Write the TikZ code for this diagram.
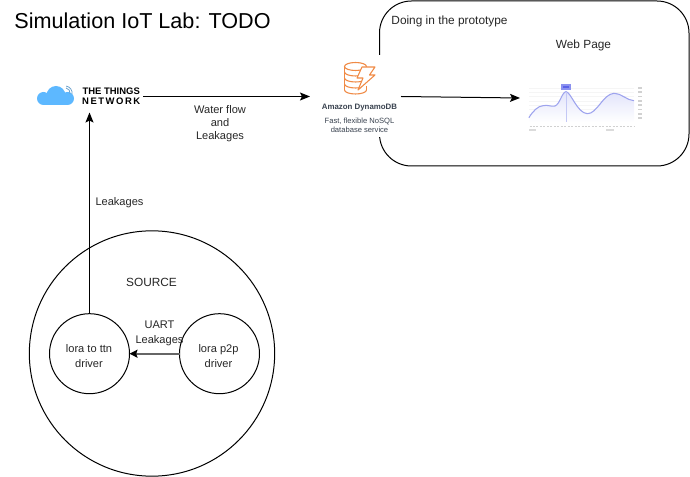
\documentclass[tikz,border=0pt]{standalone}
\usepackage{fontspec}
\setmainfont{Liberation Sans}
\usetikzlibrary{arrows.meta}
\definecolor{ttnblue}{HTML}{5DB8FF}
\definecolor{awsorange}{HTML}{F08A45}
\definecolor{awsgray}{HTML}{3A4350}
\definecolor{chartblue}{HTML}{9DA3EE}
\definecolor{chartfill}{HTML}{E2E4FB}
\definecolor{badgeblue}{HTML}{5A62E8}
\tikzset{
	lbl/.style={font=\fontsize{8.3}{11}\selectfont,align=center,text=black!85,inner sep=0pt},
	lblw/.style={lbl,font=\fontsize{8.9}{11}\selectfont},
	drv/.style={circle,draw,minimum size=60pt,inner sep=0pt,outer sep=0pt},
	logo/.style={inner sep=0pt,outer sep=0pt},
	arr/.style={-{Stealth[length=7.5pt,width=6pt,inset=1.5pt]}}
}
\begin{document}
\begin{tikzpicture}[x=0.75pt,y=-0.75pt,line width=0.75pt]
			\useasboundingbox (0,0) rectangle (690,477);
			\draw[rounded corners=24pt] (379.5,1) rectangle (689,166);
			\node[logo,fill=white,minimum width=68.25pt,minimum height=61.5pt] (dynamo) at (355.5,96.5) {};
			\node[logo,minimum width=80.25pt,minimum height=24pt] (ttn) at (89.5,96.5) {};
			\node[logo,minimum width=97.5pt,minimum height=45pt] (chart) at (585,98) {};
			\node[circle,draw,minimum size=184pt,inner sep=0pt] (source) at (152,353.5) {};
			\node[drv] (ttndrv) at (89.5,353.7) {};
			\node[drv] (p2pdrv) at (219.5,353.7) {};
			\draw[arr] (ttn.east) -- (dynamo.west);
			\draw[arr] (dynamo.east) -- (chart.west);
			\draw[arr] (ttndrv.north) -- (ttn.south);
			\draw[draw=black!60,line width=1.5pt,-{Stealth[length=6pt,width=6pt,inset=1pt,color=black]}] (p2pdrv.west) -- (ttndrv.east);
			\node[font=\fontsize{16.2}{18}\selectfont,inner sep=0pt] (title) at (142.5,21) {Simulation IoT Lab: TODO};
			\node[lblw] (doing) at (449.5,21.5) {Doing in the prototype};
			\node[lblw] (web) at (583.5,45) {Web Page};
			\node[lbl] (water) at (220,123.5) {Water flow\\[-1pt]and\\[-1pt]Leakages};
			\node[lbl] (leak) at (119.5,202.5) {Leakages};
			\node[lblw] (src) at (151.5,282.5) {SOURCE};
			\node[lbl] (uart) at (159.5,333.5) {UART\\Leakages};
			\node[lbl] (ttntxt) at (89,355.8) {lora to ttn\\driver};
			\node[lbl] (p2ptxt) at (218.5,355.8) {lora p2p\\driver};
			\fill[ttnblue] (43.5,98.5) circle (6.5);
			\fill[ttnblue] (56,95.5) circle (9.5);
			\fill[ttnblue] (67.5,98.5) circle (6.5);
			\fill[ttnblue] (43.5,96) rectangle (67.5,105);
			\draw[ttnblue!60!gray,line width=0.6pt] (66,88) arc (280:370:5);
			\draw[ttnblue!60!gray,line width=0.6pt] (66.3,86.1) arc (280:370:7);
			\node[logo,font=\fontsize{7.1}{8}\bfseries\selectfont] (things) at (111.2,91.7) {THE THINGS};
			\node[logo,font=\fontsize{7.1}{8}\bfseries\selectfont] (network) at (111.2,101.3) {\addfontfeature{LetterSpace=16}NETWORK};
			\begin{scope}[awsorange,line width=0.8pt]
			\draw (355.5,66.5) ellipse (11 and 4);
			\draw (344.5,66.5) -- (344.5,90);
			\draw (366.5,66.5) -- (366.5,71);
			\draw (366.5,86) -- (366.5,90);
			\draw (344.5,72) arc (180:0:11 and 4);
			\draw (344.5,78) arc (180:60:11 and 4);
			\draw (344.5,84) arc (180:60:11 and 4);
			\draw (344.5,90) arc (180:0:11 and 4);
			\draw[fill=white,line join=round] (362,67) -- (375,67) -- (369.5,75) -- (375,75) -- (358,90) -- (363,78) -- (357,78) -- cycle;
			\end{scope}
			\node[logo,text=awsgray,font=\fontsize{5.9}{7}\bfseries\selectfont] (dynname) at (359.5,107.3) {Amazon DynamoDB};
			\node[logo,text=awsgray,align=center,font=\fontsize{5.7}{6.75}\selectfont] (dyntxt) at (359.5,125.5) {Fast, flexible NoSQL\\database service};
			\foreach \y in {88,92.3,...,122} {
				\draw[black!4,line width=0.4pt] (529,\y) -- (634,\y);
				\draw[black!18,line width=1.2pt] (638,\y) -- (642,\y);
			}
			\shade[top color=chartfill,bottom color=white] (528.9,117.7) .. controls (533,111) and (538,106) .. (543,105.7) .. controls (548,104.5) and (551,107) .. (555,106) .. controls (560,104) and (562,92) .. (566,91.7) .. controls (571,92) and (577,113) .. (587.3,113.7) .. controls (597,114) and (603,94) .. (614,93.3) .. controls (621,93) and (627,100.5) .. (634,100.7) -- (634,122) -- (528.9,122) -- cycle;
			\draw[chartblue,line width=0.8pt] (528.9,117.7) .. controls (533,111) and (538,106) .. (543,105.7) .. controls (548,104.5) and (551,107) .. (555,106) .. controls (560,104) and (562,92) .. (566,91.7) .. controls (571,92) and (577,113) .. (587.3,113.7) .. controls (597,114) and (603,94) .. (614,93.3) .. controls (621,93) and (627,100.5) .. (634,100.7);
			\draw[chartblue!60,line width=0.5pt] (566,91.7) -- (566,122);
			\fill[badgeblue!70] (561,84.5) rectangle (571,90);
			\fill[badgeblue] (563,86.5) rectangle (569,88);
			\draw[black!18,line width=1.2pt,dash pattern=on 1.5pt off 1.1pt] (529.5,126.5) -- (634,126.5);
			\draw[black!14,line width=1pt] (529,130) -- (536,130);
			\draw[black!14,line width=1pt] (606,130) -- (614,130);
		\end{tikzpicture}
\end{document}
